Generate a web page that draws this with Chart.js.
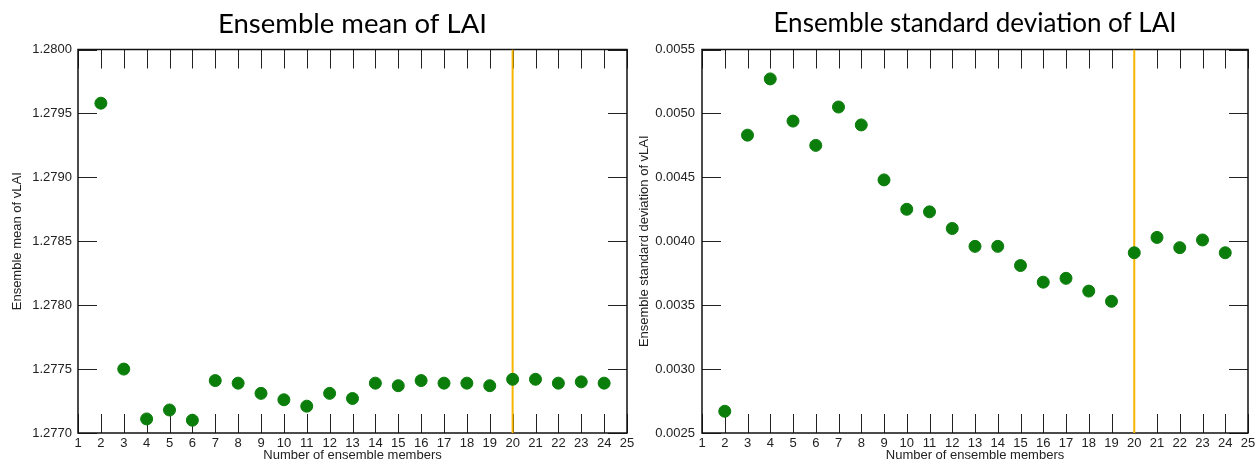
<!DOCTYPE html>
<html>
<head>
<meta charset="utf-8">
<script src="https://cdn.jsdelivr.net/npm/chart.js@4.4.1/dist/chart.umd.min.js"></script>
<style>
  body { margin: 0; background: #fff; }
  #wrap { position: relative; width: 1260px; height: 464px; }
  canvas { position: absolute; top: 0; }
  #meanChart { left: 0; }
  #stdChart { left: 630px; }
</style>
</head>
<body>
<div id="wrap">
  <canvas id="meanChart" width="640" height="464"></canvas>
  <canvas id="stdChart" width="630" height="464"></canvas>
</div>
<script>
// Values
const members = [2, 3, 4, 5, 6, 7, 8, 9, 10, 11, 12, 13, 14, 15, 16, 17, 18, 19, 20, 21, 22, 23, 24];
const meanLAI = [1.27958, 1.27750, 1.27711, 1.27718, 1.27710, 1.27741, 1.27739, 1.27731, 1.27726, 1.27721,
  1.27731, 1.27727, 1.27739, 1.27737, 1.27741, 1.27739, 1.27739, 1.27737, 1.27742, 1.27742,
  1.27739, 1.27740, 1.27739];
const stdLAI = [0.00267, 0.00483, 0.00527, 0.00494, 0.00475, 0.00505, 0.00491, 0.00448, 0.00425, 0.00423,
  0.00410, 0.00396, 0.00396, 0.00381, 0.00368, 0.00371, 0.00361, 0.00353, 0.00391, 0.00403,
  0.00395, 0.00401, 0.00391];
const selectedMembers = 20; // orange marker line
const xRange = [1, 25];
const meanRange = [1.2770, 1.2800];
const stdRange = [0.0025, 0.0055];

const TICK_FONT = { family: "'Liberation Sans', Arial, sans-serif", size: 13 };

// Box border + tick marks pointing into the plot on all four sides
const innerTicks = {
  id: 'innerTicks',
  beforeDatasetsDraw(chart) {
    const { ctx, chartArea: a, scales } = chart;
    const len = 19;
    ctx.save();
    ctx.strokeStyle = '#222';
    ctx.lineWidth = 1;
    ctx.beginPath();
    scales.x.ticks.forEach(t => {
      const px = Math.round(scales.x.getPixelForValue(t.value)) + 0.5;
      ctx.moveTo(px, a.top); ctx.lineTo(px, a.top + len);
      ctx.moveTo(px, a.bottom); ctx.lineTo(px, a.bottom - len);
    });
    scales.y.ticks.forEach(t => {
      const py = Math.round(scales.y.getPixelForValue(t.value)) + 0.5;
      ctx.moveTo(a.left, py); ctx.lineTo(a.left + len, py);
      ctx.moveTo(a.right, py); ctx.lineTo(a.right - len, py);
    });
    ctx.stroke();
    ctx.strokeStyle = '#111';
    ctx.lineWidth = 1.5;
    ctx.strokeRect(a.left, a.top, a.right - a.left, a.bottom - a.top);
    ctx.restore();
  }
};

function makeChart(id, title, yTitle, values, yRange, opts) {
  const ctx = document.getElementById(id).getContext('2d');
  return new Chart(ctx, {
    type: 'scatter',
    data: {
      datasets: [
        {
          data: members.map((m, i) => ({ x: m, y: values[i] })),
          backgroundColor: '#0a7d0a',
          borderColor: '#0a7d0a',
          pointRadius: 6,
          order: 0
        },
        {
          type: 'line',
          data: [{ x: selectedMembers, y: yRange[0] }, { x: selectedMembers, y: yRange[1] }],
          borderColor: '#f7b500',
          borderWidth: 2,
          pointRadius: 0,
          order: 1
        }
      ]
    },
    options: {
      responsive: false,
      animation: false,
      devicePixelRatio: 1,
      layout: { padding: { left: 0, right: opts.padRight, top: 0, bottom: 0 } },
      plugins: {
        legend: { display: false },
        tooltip: { enabled: false },
        title: {
          display: true,
          text: title,
          fullSize: false,
          color: '#000',
          font: { family: "Lato, 'Open Sans', sans-serif", size: opts.titleSize, weight: 'normal' },
          padding: { top: 8, bottom: 40.5 - 8 - opts.titleSize * 1.2 + 9 }
        }
      },
      scales: {
        x: {
          type: 'linear',
          min: xRange[0],
          max: xRange[1],
          afterFit(s) { s.height = 31; },
          grid: { display: false, drawTicks: false },
          border: { display: false },
          ticks: { stepSize: 1, autoSkip: false, maxRotation: 0, padding: 3, color: '#222', font: TICK_FONT },
          title: {
            display: true,
            text: 'Number of ensemble members',
            color: '#222',
            font: TICK_FONT,
            padding: { top: 0, bottom: 1 }
          }
        },
        y: {
          min: yRange[0],
          max: yRange[1],
          afterFit(s) { s.width = opts.yWidth; },
          grid: { display: false, drawTicks: false },
          border: { display: false },
          ticks: {
            stepSize: 0.0005,
            padding: opts.yPad,
            color: '#222',
            font: TICK_FONT,
            callback: v => v.toFixed(4)
          },
          title: {
            display: true,
            text: yTitle,
            color: '#222',
            font: TICK_FONT,
            padding: { top: opts.yTitlePad, bottom: 0 }
          }
        }
      }
    },
    plugins: [innerTicks]
  });
}

makeChart('meanChart', 'Ensemble mean of LAI', 'Ensemble mean of vLAI', meanLAI, meanRange,
  { yWidth: 78, yPad: 6, yTitlePad: 10, padRight: 13, titleSize: 27.5 });
makeChart('stdChart', 'Ensemble standard deviation of LAI', 'Ensemble standard deviation of vLAI', stdLAI, stdRange,
  { yWidth: 72, yPad: 7, yTitlePad: 7, padRight: 12, titleSize: 26 });
</script>
</body>
</html>
